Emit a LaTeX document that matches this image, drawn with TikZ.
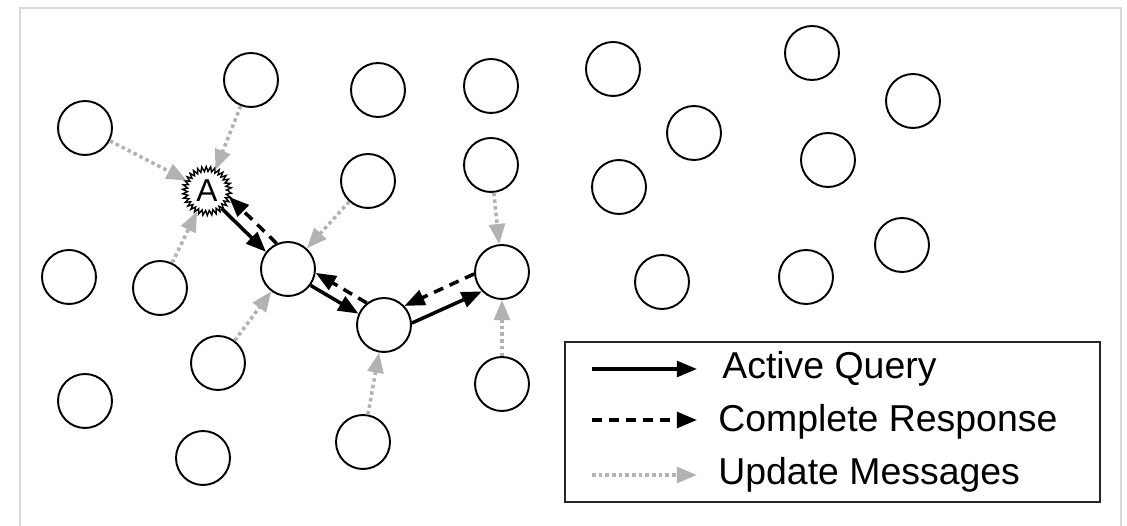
\documentclass[tikz,border=0pt]{standalone}
\usepackage{fontspec}
\setmainfont{Liberation Sans}
\usetikzlibrary{arrows.meta,decorations.pathmorphing}
\begin{document}
\begin{tikzpicture}[x=0.02cm,y=-0.02cm,
    peer/.style={circle,draw,line width=1.1pt,minimum size=1.08cm,inner sep=0pt},
    origin/.style={circle,draw,line width=0.8pt,minimum size=0.88cm,inner sep=0pt,
        decorate,decoration={zigzag,segment length=2.3pt,amplitude=1.4pt},
        font=\fontsize{18}{20}\selectfont},
    query/.style={-{Triangle[length=11.5pt,width=9pt]},line width=2pt},
    resp/.style={query,dash pattern=on 5.7pt off 4pt},
    upd/.style={-{Triangle[length=11.5pt,width=9pt]},line width=2pt,gray!60,
        dash pattern=on 2pt off 1.8pt},
    key/.style={anchor=base west,inner sep=0pt,font=\fontsize{21.3}{24}\selectfont}]
    \useasboundingbox (0,0) rectangle (1127,526);
    \draw[black!15,line width=0.6pt] (20,526) |- (1121,8) -- (1121,526);
    % peers
    \foreach \name/\pos in {p1/{(85,128)},p2/{(251,80)},p3/{(378,90)},p4/{(491,86)},
        p5/{(613,69)},p6/{(812,53)},p7/{(913,101)},p8/{(694,133)},p9/{(828,160)},
        p10/{(368,181)},p11/{(491,165)},p12/{(619,187)},p13/{(288,269)},
        p14/{(502,272)},p15/{(69,277)},p16/{(160,288)},p17/{(384,325)},
        p18/{(662,282)},p19/{(806,277)},p20/{(902,245)},p21/{(218,363)},
        p22/{(85,401)},p23/{(502,384)},p24/{(203,458)},p25/{(363,442)}}
    {
        \node[peer] (\name) at \pos {};
    }
    \node[origin] (a) at (207,191) {A};
    % update messages
    \foreach \s/\t in {p1/a,p2/a,p16/a,p10/p13,p21/p13,p25/p17,p11/p14,p23/p14}
    {
        \draw[upd] (\s) -- (\t);
    }
    % query and response
    \draw[query] (a.-50) -- (p13.142.5);
    \draw[query] (p13.-36.7) -- (p17.156);
    \draw[query] (p17.4.7) -- (p14.-136.3);
    \draw[resp] (p14.184.7) -- (p17.43.7);
    \draw[resp] (p17.128) -- (p13.-8.6);
    \draw[resp] (p13.114.4) -- (a.-15.5);
    % legend
    \draw[line width=1.1pt,black!85] (565,342) rectangle (1100,502);
    \coordinate (l1) at (592,369);
    \coordinate (r1) at (697,369);
    \coordinate (l2) at (592,420);
    \coordinate (r2) at (697,420);
    \coordinate (l3) at (592,475);
    \coordinate (r3) at (697,475);
    \draw[query] (l1) -- (r1);
    \draw[resp] (l2) -- (r2);
    \draw[upd] (l3) -- (r3);
    \node[key] at (722,379) {Active Query};
    \node[key] at (718,432) {Complete Response};
    \node[key] at (718,485) {Update Messages};
\end{tikzpicture}
\end{document}
